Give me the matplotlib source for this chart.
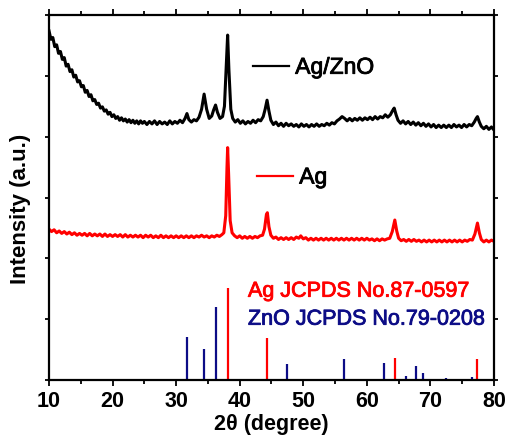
import numpy as np
import matplotlib.pyplot as plt
import matplotlib.patheffects as pe
from matplotlib.lines import Line2D

plt.rcParams['font.family'] = ['Liberation Sans', 'DejaVu Sans']

# ── XRD traces (2θ, offset intensity) ──
agzno_pts = [
    (10.0, 5.74), (10.3, 5.60), (10.6, 5.63), (10.9, 5.48), (11.2, 5.51), (11.5, 5.37), (11.8, 5.40),
    (12.1, 5.27), (12.4, 5.30), (12.7, 5.16), (13.0, 5.19), (13.3, 5.07), (13.6, 5.10), (13.9, 4.98),
    (14.2, 5.01), (14.5, 4.90), (14.8, 4.92), (15.1, 4.82), (15.4, 4.84), (15.7, 4.73), (16.0, 4.76),
    (16.3, 4.66), (16.6, 4.69), (16.9, 4.59), (17.2, 4.61), (17.5, 4.53), (17.8, 4.55), (18.1, 4.47),
    (18.4, 4.49), (18.7, 4.42), (19.0, 4.44), (19.3, 4.37), (19.6, 4.40), (19.9, 4.33), (20.2, 4.36),
    (20.5, 4.30), (20.8, 4.33), (21.1, 4.27), (21.4, 4.31), (21.7, 4.26), (22.0, 4.29), (22.3, 4.24),
    (22.6, 4.28), (22.9, 4.23), (23.2, 4.27), (23.5, 4.22), (23.8, 4.26), (24.1, 4.21), (24.4, 4.26),
    (24.7, 4.22), (25.0, 4.25), (25.4, 4.20), (25.8, 4.25), (26.2, 4.21), (26.6, 4.26), (27.0, 4.20),
    (27.4, 4.25), (27.8, 4.21), (28.2, 4.24), (28.6, 4.20), (29.0, 4.26), (29.4, 4.21), (29.8, 4.25),
    (30.2, 4.22), (30.6, 4.27), (31.0, 4.23), (31.4, 4.30), (31.7, 4.38), (32.0, 4.28), (32.4, 4.24),
    (32.8, 4.28), (33.2, 4.26), (33.6, 4.32), (34.0, 4.45), (34.4, 4.70), (34.8, 4.45), (35.2, 4.30),
    (35.6, 4.34), (35.9, 4.44), (36.2, 4.52), (36.5, 4.40), (36.9, 4.30), (37.3, 4.33), (37.6, 4.50),
    (37.9, 5.20), (38.1, 5.67), (38.3, 5.10), (38.6, 4.45), (38.9, 4.30), (39.3, 4.24), (39.7, 4.28),
    (40.1, 4.22), (40.5, 4.26), (40.9, 4.21), (41.3, 4.25), (41.7, 4.22), (42.1, 4.27), (42.5, 4.23),
    (42.9, 4.28), (43.3, 4.26), (43.7, 4.33), (44.0, 4.45), (44.3, 4.60), (44.6, 4.42), (44.9, 4.27),
    (45.3, 4.20), (45.7, 4.24), (46.1, 4.18), (46.5, 4.22), (46.9, 4.17), (47.3, 4.22), (47.7, 4.18),
    (48.1, 4.21), (48.5, 4.17), (48.9, 4.20), (49.3, 4.16), (49.7, 4.21), (50.1, 4.17), (50.5, 4.20),
    (50.9, 4.16), (51.3, 4.20), (51.7, 4.17), (52.1, 4.21), (52.5, 4.17), (52.9, 4.20), (53.3, 4.18),
    (53.7, 4.22), (54.1, 4.19), (54.5, 4.23), (54.9, 4.21), (55.3, 4.26), (55.7, 4.29), (56.1, 4.33),
    (56.5, 4.30), (56.9, 4.26), (57.3, 4.30), (57.7, 4.26), (58.1, 4.30), (58.5, 4.27), (58.9, 4.31),
    (59.3, 4.27), (59.7, 4.31), (60.1, 4.28), (60.5, 4.32), (60.9, 4.28), (61.3, 4.33), (61.7, 4.29),
    (62.1, 4.33), (62.5, 4.31), (62.9, 4.36), (63.3, 4.32), (63.7, 4.36), (64.0, 4.42), (64.3, 4.47),
    (64.6, 4.36), (64.9, 4.27), (65.3, 4.22), (65.7, 4.26), (66.1, 4.21), (66.5, 4.25), (66.9, 4.20),
    (67.3, 4.24), (67.7, 4.19), (68.1, 4.23), (68.5, 4.18), (68.9, 4.22), (69.3, 4.17), (69.7, 4.21),
    (70.1, 4.16), (70.5, 4.20), (70.9, 4.15), (71.3, 4.19), (71.7, 4.15), (72.1, 4.19), (72.5, 4.15),
    (72.9, 4.19), (73.3, 4.15), (73.7, 4.20), (74.1, 4.16), (74.5, 4.19), (74.9, 4.15), (75.3, 4.20),
    (75.7, 4.16), (76.1, 4.20), (76.5, 4.18), (76.9, 4.24), (77.2, 4.30), (77.4, 4.33), (77.7, 4.24),
    (78.0, 4.17), (78.4, 4.13), (78.8, 4.17), (79.2, 4.12), (79.6, 4.16), (80.0, 4.11),
]

ag_pts = [
    (10.0, 2.48), (10.4, 2.44), (10.8, 2.47), (11.2, 2.42), (11.6, 2.45), (12.0, 2.41), (12.4, 2.44),
    (12.8, 2.40), (13.2, 2.43), (13.6, 2.39), (14.0, 2.42), (14.4, 2.38), (14.8, 2.41), (15.2, 2.38),
    (15.6, 2.41), (16.0, 2.37), (16.4, 2.41), (16.8, 2.37), (17.2, 2.40), (17.6, 2.37), (18.0, 2.40),
    (18.4, 2.36), (18.8, 2.40), (19.2, 2.36), (19.6, 2.39), (20.0, 2.36), (20.4, 2.39), (20.8, 2.36),
    (21.2, 2.39), (21.6, 2.35), (22.0, 2.39), (22.4, 2.35), (22.8, 2.38), (23.2, 2.35), (23.6, 2.38),
    (24.0, 2.35), (24.4, 2.38), (24.8, 2.34), (25.2, 2.38), (25.6, 2.35), (26.0, 2.38), (26.4, 2.34),
    (26.8, 2.37), (27.2, 2.34), (27.6, 2.38), (28.0, 2.34), (28.4, 2.37), (28.8, 2.34), (29.2, 2.37),
    (29.6, 2.34), (30.0, 2.37), (30.4, 2.34), (30.8, 2.37), (31.2, 2.34), (31.6, 2.37), (32.0, 2.34),
    (32.4, 2.37), (32.8, 2.34), (33.2, 2.37), (33.6, 2.35), (34.0, 2.38), (34.4, 2.35), (34.8, 2.37),
    (35.2, 2.34), (35.6, 2.37), (36.0, 2.35), (36.4, 2.38), (36.8, 2.36), (37.2, 2.39), (37.5, 2.42),
    (37.8, 2.70), (38.0, 3.50), (38.1, 3.82), (38.25, 3.40), (38.5, 2.62), (38.8, 2.42), (39.2, 2.37),
    (39.6, 2.34), (40.0, 2.37), (40.4, 2.33), (40.8, 2.36), (41.2, 2.33), (41.6, 2.36), (42.0, 2.33),
    (42.4, 2.36), (42.8, 2.34), (43.2, 2.37), (43.6, 2.38), (43.9, 2.48), (44.2, 2.72), (44.35, 2.75),
    (44.6, 2.52), (44.9, 2.38), (45.3, 2.33), (45.7, 2.35), (46.1, 2.31), (46.5, 2.34), (46.9, 2.31),
    (47.3, 2.34), (47.7, 2.31), (48.1, 2.34), (48.5, 2.31), (48.9, 2.35), (49.3, 2.33), (49.6, 2.37),
    (50.0, 2.32), (50.4, 2.34), (50.8, 2.30), (51.2, 2.33), (51.6, 2.30), (52.0, 2.33), (52.4, 2.30),
    (52.8, 2.33), (53.2, 2.30), (53.6, 2.33), (54.0, 2.30), (54.4, 2.33), (54.8, 2.30), (55.2, 2.33),
    (55.6, 2.30), (56.0, 2.33), (56.4, 2.30), (56.8, 2.33), (57.2, 2.30), (57.6, 2.33), (58.0, 2.30),
    (58.4, 2.33), (58.8, 2.30), (59.2, 2.33), (59.6, 2.30), (60.0, 2.33), (60.4, 2.30), (60.8, 2.32),
    (61.2, 2.29), (61.6, 2.32), (62.0, 2.29), (62.4, 2.32), (62.8, 2.30), (63.2, 2.32), (63.6, 2.33),
    (64.0, 2.44), (64.4, 2.63), (64.7, 2.45), (65.0, 2.33), (65.4, 2.29), (65.8, 2.31), (66.2, 2.28),
    (66.6, 2.31), (67.0, 2.28), (67.4, 2.31), (67.8, 2.28), (68.2, 2.30), (68.6, 2.27), (69.0, 2.30),
    (69.4, 2.27), (69.8, 2.30), (70.2, 2.27), (70.6, 2.30), (71.0, 2.27), (71.4, 2.30), (71.8, 2.27),
    (72.2, 2.30), (72.6, 2.27), (73.0, 2.30), (73.4, 2.27), (73.8, 2.30), (74.2, 2.27), (74.6, 2.30),
    (75.0, 2.27), (75.4, 2.30), (75.8, 2.28), (76.2, 2.31), (76.6, 2.30), (77.0, 2.40), (77.4, 2.58),
    (77.7, 2.42), (78.0, 2.31), (78.4, 2.27), (78.8, 2.30), (79.2, 2.27), (79.6, 2.30), (80.0, 2.28),
]

# ── Reference stick patterns ──
ag_ref_pos = [38.1, 44.3, 64.4, 77.4]
ag_ref_int = [1.51, 0.69, 0.36, 0.34]
zno_ref_pos = [31.7, 34.4, 36.2, 47.4, 56.4, 62.7, 66.1, 67.7, 68.8, 72.4, 76.6]
zno_ref_int = [0.71, 0.51, 1.20, 0.26, 0.34, 0.28, 0.06, 0.23, 0.12, 0.03, 0.05]

x_ticks = [10, 20, 30, 40, 50, 60, 70, 80]

RED = '#ff0000'
NAVY = '#0c0c86'

x_az, y_az = np.array(agzno_pts).T
x_ag, y_ag = np.array(ag_pts).T

fig = plt.figure(figsize=(5.11, 4.44), dpi=100)
ax = fig.add_axes([0.0959, 0.1441, 0.8708, 0.8221])

ax.plot(x_az, y_az, color='black', lw=2.2, solid_joinstyle='round')
ax.plot(x_ag, y_ag, color=RED, lw=2.2, solid_joinstyle='round')

ax.vlines(zno_ref_pos, 0, zno_ref_int, color=NAVY, lw=1.6)
ax.vlines(ag_ref_pos, 0, ag_ref_int, color=RED, lw=1.6)

ax.set_xlim(10, 80)
ax.set_ylim(0, 6)
ax.set_xticks(x_ticks)
ax.set_xticks(np.arange(15, 80, 10), minor=True)
ax.set_yticks(range(0, 7))
ax.set_yticklabels([])
ax.tick_params(axis='both', which='both', direction='out', width=1.3,
               top=True, right=True)
ax.tick_params(axis='x', which='major', length=4, pad=4,
               labelsize=15.5)
ax.tick_params(axis='x', which='minor', length=3)
ax.tick_params(axis='y', length=3)
for lab in ax.get_xticklabels():
    lab.set_fontweight('bold')
for sp in ax.spines.values():
    sp.set_linewidth(1.6)

ax.set_xlabel('2θ (degree)', fontsize=15.5, fontweight='bold', labelpad=1)
ax.set_ylabel('Intensity (a.u.)', fontsize=16, fontweight='bold')
ax.yaxis.set_label_coords(-0.04, 0.47)

# slightly heavier strokes for the annotation text
heavy = [pe.withStroke(linewidth=0.6, foreground='black')]

# ── Curve labels ──
leg1 = ax.legend([Line2D([], [], color='black', lw=1.6)], ['Ag/ZnO'],
                 loc='center left', bbox_to_anchor=(0.458, 0.857),
                 frameon=False, fontsize=16.5, handlelength=1.6,
                 handletextpad=0.25, borderpad=0, borderaxespad=0)
for t in leg1.get_texts():
    t.set_path_effects(heavy)
ax.add_artist(leg1)
leg2 = ax.legend([Line2D([], [], color=RED, lw=1.6)], ['Ag'],
                 loc='center left', bbox_to_anchor=(0.467, 0.556),
                 frameon=False, fontsize=16.5, handlelength=1.6,
                 handletextpad=0.25, borderpad=0, borderaxespad=0)
for t in leg2.get_texts():
    t.set_path_effects(heavy)

ax.text(41.3, 1.46, 'Ag JCPDS No.87-0597', color=RED, fontsize=15.5, va='center',
        path_effects=[pe.withStroke(linewidth=0.6, foreground=RED)])
ax.text(41.3, 1.0, 'ZnO JCPDS No.79-0208', color=NAVY, fontsize=15.5, va='center',
        path_effects=[pe.withStroke(linewidth=0.6, foreground=NAVY)])

fig.savefig('out.png', dpi=100)
